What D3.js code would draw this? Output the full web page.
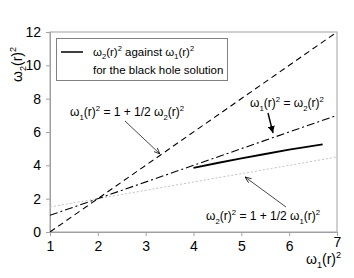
<!DOCTYPE html>
<html><head><meta charset="utf-8">
<script src="https://cdn.jsdelivr.net/npm/d3@7/dist/d3.min.js"></script>
<style>body{margin:0;background:#fff}svg{display:block}text{font-family:"Liberation Sans",Arial,sans-serif}</style>
</head><body>
<script>
const xTicks = [1, 2, 3, 4, 5, 6, 7];
const yTicks = [0, 2, 4, 6, 8, 10, 12];
const xDomain = [1, 7];
const yDomain = [0, 12];
// ω1² = 1 + 1/2 ω2²  -> ω2² = 2(ω1² - 1)
const lineA = [[1, 0], [7, 12]];
// ω1² = ω2²
const lineB = [[1, 1], [7, 7]];
// ω2² = 1 + 1/2 ω1²
const lineC = [[1, 1.5], [7, 4.5]];
// black hole solution
const bhX = [4.0, 4.5, 5.0, 5.5, 6.0, 6.4, 6.7];
const bhY = [3.85, 4.14, 4.42, 4.68, 4.94, 5.12, 5.26];

const W = 354, H = 278;
const m = {l: 50, r: 17, t: 32, b: 46};
const svg = d3.select("body").append("svg").attr("width", W).attr("height", H);
const x = d3.scaleLinear().domain(xDomain).range([m.l, W - m.r]);
const y = d3.scaleLinear().domain(yDomain).range([H - m.b, m.t]);
const gray = "#a0a0a0";

svg.append("rect").attr("x", x(1)).attr("y", y(12)).attr("width", x(7) - x(1)).attr("height", y(0) - y(12))
  .attr("fill", "none").attr("stroke", gray).attr("stroke-width", 1);

const xa = svg.append("g").attr("transform", `translate(0,${y(0)})`)
  .call(d3.axisBottom(x).tickValues(xTicks).tickSize(4).tickPadding(5).tickFormat(d3.format("d")));
const ya = svg.append("g").attr("transform", `translate(${x(1)},0)`)
  .call(d3.axisLeft(y).tickValues(yTicks).tickSize(4).tickPadding(5).tickFormat(d3.format("d")));
[xa, ya].forEach(a => {
  a.select(".domain").attr("stroke", gray);
  a.selectAll(".tick line").attr("stroke", gray);
  a.selectAll(".tick text").attr("font-size", 14).attr("fill", "#000")
   .attr("font-family", '"Liberation Sans",Arial,sans-serif');
});
xa.selectAll(".tick text").filter(d => d === 7).attr("dy", "0.45em");

svg.append("clipPath").attr("id", "clip").append("rect")
  .attr("x", x(1)).attr("y", y(12)).attr("width", x(7) - x(1)).attr("height", y(0) - y(12));
const line = d3.line().x(d => x(d[0])).y(d => y(d[1]));
const g = svg.append("g").attr("clip-path", "url(#clip)");
g.append("path").attr("d", line(lineC)).attr("fill", "none").attr("stroke", "#c4c4c4").attr("stroke-width", 1).attr("stroke-dasharray", "2,2");
g.append("path").attr("d", line(lineA)).attr("fill", "none").attr("stroke", "#000").attr("stroke-width", 1.1).attr("stroke-dasharray", "6,4");
g.append("path").attr("d", line(lineB)).attr("fill", "none").attr("stroke", "#000").attr("stroke-width", 1.1).attr("stroke-dasharray", "8,3,2,3");
g.append("path").attr("d", line(bhX.map((v, i) => [v, bhY[i]]))).attr("fill", "none").attr("stroke", "#000").attr("stroke-width", 1.8);

function rich(sel, parts, fs) {
  let shift = 0;
  parts.forEach(([t, k]) => {
    const target = k === "sub" ? fs * 0.3 : k === "sup" ? -fs * 0.4 : 0;
    sel.append("tspan").attr("dy", target - shift).attr("font-size", k ? fs * 0.65 : fs).text(t);
    shift = target;
  });
}
const w1 = [["ω"], ["1", "sub"], ["(r)"], ["2", "sup"]];
const w2 = [["ω"], ["2", "sub"], ["(r)"], ["2", "sup"]];

// legend
svg.append("rect").attr("x", 56.5).attr("y", 38.5).attr("width", 171).attr("height", 42)
  .attr("fill", "#fff").attr("stroke", "#808080");
svg.append("line").attr("x1", 61).attr("x2", 83).attr("y1", 52).attr("y2", 52).attr("stroke", "#000").attr("stroke-width", 1.5);
rich(svg.append("text").attr("x", 93).attr("y", 56).attr("font-size", 11.5), [...w2, [" against "], ...w1], 11.5);
svg.append("text").attr("x", 93).attr("y", 74).attr("font-size", 11.5).text("for the black hole solution");

const defs = svg.append("defs");
defs.append("marker").attr("id", "ah").attr("viewBox", "0 0 10 10").attr("refX", 10).attr("refY", 5)
  .attr("markerWidth", 7).attr("markerHeight", 7).attr("orient", "auto")
  .append("path").attr("d", "M0,1 L10,5 L0,9").attr("fill", "none").attr("stroke", "#000").attr("stroke-width", 1.2);
defs.append("marker").attr("id", "ah2").attr("viewBox", "0 0 10 10").attr("refX", 10).attr("refY", 5)
  .attr("markerWidth", 5).attr("markerHeight", 5).attr("orient", "auto")
  .append("path").attr("d", "M0,0 L10,5 L0,10 Z").attr("fill", "#000");

rich(svg.append("text").attr("x", 70).attr("y", 116).attr("font-size", 12), [...w1, [" = 1 + 1/2 "], ...w2], 12);
svg.append("line").attr("x1", 125).attr("y1", 121).attr("x2", 160).attr("y2", 154).attr("stroke", "#333").attr("stroke-width", 0.9).attr("marker-end", "url(#ah)");

rich(svg.append("text").attr("x", 250).attr("y", 107).attr("font-size", 12), [...w1, [" = "], ...w2], 12);
svg.append("line").attr("x1", 268).attr("y1", 113).attr("x2", 273).attr("y2", 133).attr("stroke", "#000").attr("stroke-width", 1.4).attr("marker-end", "url(#ah2)");

rich(svg.append("text").attr("x", 206).attr("y", 220).attr("font-size", 12), [...w2, [" = 1 + 1/2 "], ...w1], 12);
svg.append("line").attr("x1", 286).attr("y1", 207).attr("x2", 245).attr("y2", 177).attr("stroke", "#333").attr("stroke-width", 0.9).attr("marker-end", "url(#ah)");

rich(svg.append("text").attr("x", 306).attr("y", 264).attr("font-size", 14), w1, 14);
rich(svg.append("text").attr("transform", "translate(22,82) rotate(-90)").attr("font-size", 14), w2, 14);
</script>
</body></html>
